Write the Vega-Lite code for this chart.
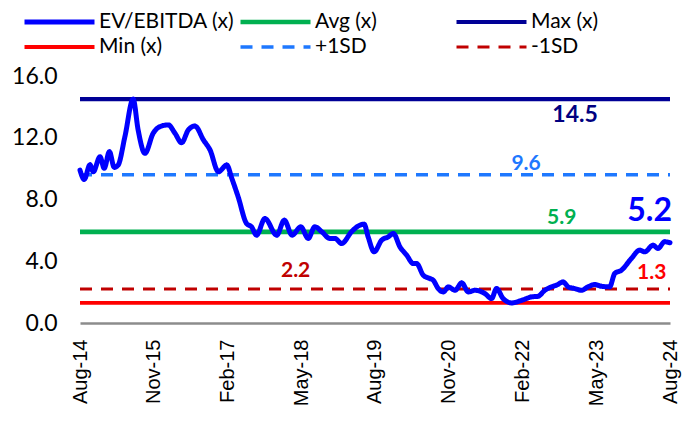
{
  "$schema": "https://vega.github.io/schema/vega-lite/v6.json",
  "autosize": {"type": "none"},
  "padding": {"left": 80, "top": 76, "right": 25, "bottom": 105},
  "width": 590,
  "height": 247,
  "config": {"view": {"stroke": null}, "font": "Lato"},
  "datasets": {
    "ref": [
      {"series": "Avg (x)", "date": "2014-08-01", "value": 5.9},
      {"series": "Avg (x)", "date": "2024-08-01", "value": 5.9},
      {"series": "Max (x)", "date": "2014-08-01", "value": 14.5},
      {"series": "Max (x)", "date": "2024-08-01", "value": 14.5},
      {"series": "Min (x)", "date": "2014-08-01", "value": 1.3},
      {"series": "Min (x)", "date": "2024-08-01", "value": 1.3},
      {"series": "+1SD", "date": "2014-08-01", "value": 9.6},
      {"series": "+1SD", "date": "2024-08-01", "value": 9.6},
      {"series": "-1SD", "date": "2014-08-01", "value": 2.2},
      {"series": "-1SD", "date": "2024-08-01", "value": 2.2}
    ],
    "ev": [
      {"series": "EV/EBITDA (x)", "date": "2014-08-01", "value": 9.9},
      {"series": "EV/EBITDA (x)", "date": "2014-08-27", "value": 9.3},
      {"series": "EV/EBITDA (x)", "date": "2014-10-02", "value": 10.25},
      {"series": "EV/EBITDA (x)", "date": "2014-10-22", "value": 9.8},
      {"series": "EV/EBITDA (x)", "date": "2014-12-03", "value": 10.77},
      {"series": "EV/EBITDA (x)", "date": "2014-12-29", "value": 10.02},
      {"series": "EV/EBITDA (x)", "date": "2015-01-30", "value": 11.1},
      {"series": "EV/EBITDA (x)", "date": "2015-03-01", "value": 10.08},
      {"series": "EV/EBITDA (x)", "date": "2015-03-25", "value": 10.23},
      {"series": "EV/EBITDA (x)", "date": "2015-05-06", "value": 12.07},
      {"series": "EV/EBITDA (x)", "date": "2015-06-26", "value": 14.5},
      {"series": "EV/EBITDA (x)", "date": "2015-07-27", "value": 12.5},
      {"series": "EV/EBITDA (x)", "date": "2015-09-07", "value": 10.99},
      {"series": "EV/EBITDA (x)", "date": "2015-10-28", "value": 12.29},
      {"series": "EV/EBITDA (x)", "date": "2015-12-09", "value": 12.72},
      {"series": "EV/EBITDA (x)", "date": "2016-01-30", "value": 12.83},
      {"series": "EV/EBITDA (x)", "date": "2016-03-11", "value": 12.29},
      {"series": "EV/EBITDA (x)", "date": "2016-04-21", "value": 11.68},
      {"series": "EV/EBITDA (x)", "date": "2016-06-02", "value": 12.51},
      {"series": "EV/EBITDA (x)", "date": "2016-07-13", "value": 12.76},
      {"series": "EV/EBITDA (x)", "date": "2016-09-03", "value": 11.86},
      {"series": "EV/EBITDA (x)", "date": "2016-10-14", "value": 11.21},
      {"series": "EV/EBITDA (x)", "date": "2016-12-05", "value": 9.8},
      {"series": "EV/EBITDA (x)", "date": "2017-01-26", "value": 10.23},
      {"series": "EV/EBITDA (x)", "date": "2017-02-26", "value": 9.37},
      {"series": "EV/EBITDA (x)", "date": "2017-04-06", "value": 8.18},
      {"series": "EV/EBITDA (x)", "date": "2017-05-28", "value": 6.45},
      {"series": "EV/EBITDA (x)", "date": "2017-06-28", "value": 6.23},
      {"series": "EV/EBITDA (x)", "date": "2017-07-29", "value": 5.69},
      {"series": "EV/EBITDA (x)", "date": "2017-09-19", "value": 6.77},
      {"series": "EV/EBITDA (x)", "date": "2017-12-01", "value": 5.69},
      {"series": "EV/EBITDA (x)", "date": "2018-01-17", "value": 6.66},
      {"series": "EV/EBITDA (x)", "date": "2018-03-06", "value": 5.69},
      {"series": "EV/EBITDA (x)", "date": "2018-04-29", "value": 6.23},
      {"series": "EV/EBITDA (x)", "date": "2018-06-14", "value": 5.48},
      {"series": "EV/EBITDA (x)", "date": "2018-07-25", "value": 6.23},
      {"series": "EV/EBITDA (x)", "date": "2018-09-06", "value": 5.91},
      {"series": "EV/EBITDA (x)", "date": "2018-10-26", "value": 5.48},
      {"series": "EV/EBITDA (x)", "date": "2018-11-26", "value": 5.48},
      {"series": "EV/EBITDA (x)", "date": "2019-01-07", "value": 5.15},
      {"series": "EV/EBITDA (x)", "date": "2019-03-09", "value": 5.91},
      {"series": "EV/EBITDA (x)", "date": "2019-04-19", "value": 6.28},
      {"series": "EV/EBITDA (x)", "date": "2019-05-26", "value": 6.4},
      {"series": "EV/EBITDA (x)", "date": "2019-06-20", "value": 5.58},
      {"series": "EV/EBITDA (x)", "date": "2019-07-27", "value": 4.61},
      {"series": "EV/EBITDA (x)", "date": "2019-09-12", "value": 5.37},
      {"series": "EV/EBITDA (x)", "date": "2019-10-22", "value": 5.58},
      {"series": "EV/EBITDA (x)", "date": "2019-11-23", "value": 5.8},
      {"series": "EV/EBITDA (x)", "date": "2020-01-03", "value": 4.93},
      {"series": "EV/EBITDA (x)", "date": "2020-02-14", "value": 4.39},
      {"series": "EV/EBITDA (x)", "date": "2020-03-25", "value": 3.85},
      {"series": "EV/EBITDA (x)", "date": "2020-04-15", "value": 3.85},
      {"series": "EV/EBITDA (x)", "date": "2020-05-26", "value": 3.1},
      {"series": "EV/EBITDA (x)", "date": "2020-07-06", "value": 2.88},
      {"series": "EV/EBITDA (x)", "date": "2020-07-27", "value": 2.77},
      {"series": "EV/EBITDA (x)", "date": "2020-08-27", "value": 2.23},
      {"series": "EV/EBITDA (x)", "date": "2020-09-28", "value": 2.01},
      {"series": "EV/EBITDA (x)", "date": "2020-10-28", "value": 2.34},
      {"series": "EV/EBITDA (x)", "date": "2020-12-09", "value": 2.12},
      {"series": "EV/EBITDA (x)", "date": "2021-01-20", "value": 2.6},
      {"series": "EV/EBITDA (x)", "date": "2021-03-01", "value": 2.01},
      {"series": "EV/EBITDA (x)", "date": "2021-04-11", "value": 2.12},
      {"series": "EV/EBITDA (x)", "date": "2021-06-12", "value": 1.91},
      {"series": "EV/EBITDA (x)", "date": "2021-07-23", "value": 1.58},
      {"series": "EV/EBITDA (x)", "date": "2021-08-23", "value": 2.23},
      {"series": "EV/EBITDA (x)", "date": "2021-10-03", "value": 1.58},
      {"series": "EV/EBITDA (x)", "date": "2021-11-25", "value": 1.3},
      {"series": "EV/EBITDA (x)", "date": "2022-01-26", "value": 1.47},
      {"series": "EV/EBITDA (x)", "date": "2022-03-27", "value": 1.69},
      {"series": "EV/EBITDA (x)", "date": "2022-05-07", "value": 1.73},
      {"series": "EV/EBITDA (x)", "date": "2022-06-18", "value": 2.12},
      {"series": "EV/EBITDA (x)", "date": "2022-07-29", "value": 2.34},
      {"series": "EV/EBITDA (x)", "date": "2022-08-29", "value": 2.45},
      {"series": "EV/EBITDA (x)", "date": "2022-10-09", "value": 2.66},
      {"series": "EV/EBITDA (x)", "date": "2022-11-10", "value": 2.34},
      {"series": "EV/EBITDA (x)", "date": "2022-12-21", "value": 2.23},
      {"series": "EV/EBITDA (x)", "date": "2023-02-01", "value": 2.12},
      {"series": "EV/EBITDA (x)", "date": "2023-03-12", "value": 2.34},
      {"series": "EV/EBITDA (x)", "date": "2023-04-23", "value": 2.49},
      {"series": "EV/EBITDA (x)", "date": "2023-06-03", "value": 2.38},
      {"series": "EV/EBITDA (x)", "date": "2023-07-24", "value": 2.34},
      {"series": "EV/EBITDA (x)", "date": "2023-08-25", "value": 3.21},
      {"series": "EV/EBITDA (x)", "date": "2023-10-05", "value": 3.42},
      {"series": "EV/EBITDA (x)", "date": "2023-12-06", "value": 4.18},
      {"series": "EV/EBITDA (x)", "date": "2024-01-27", "value": 4.72},
      {"series": "EV/EBITDA (x)", "date": "2024-02-27", "value": 4.61},
      {"series": "EV/EBITDA (x)", "date": "2024-04-18", "value": 5.04},
      {"series": "EV/EBITDA (x)", "date": "2024-05-18", "value": 4.83},
      {"series": "EV/EBITDA (x)", "date": "2024-06-29", "value": 5.26},
      {"series": "EV/EBITDA (x)", "date": "2024-08-01", "value": 5.2}
    ],
    "labels": [
      {"lab": "14.5", "date": "2022-12-22", "value": 14.5},
      {"lab": "9.6", "date": "2022-02-22", "value": 9.6},
      {"lab": "5.9", "date": "2022-10-01", "value": 5.9},
      {"lab": "5.2", "date": "2024-03-28", "value": 5.2},
      {"lab": "1.3", "date": "2024-04-10", "value": 1.3},
      {"lab": "2.2", "date": "2018-03-28", "value": 2.2}
    ]
  },
  "encoding": {
    "x": {
      "field": "date", "type": "temporal",
      "scale": {"type": "utc", "domain": [{"year": 2014, "month": 8, "date": 1, "utc": true}, {"year": 2024, "month": 8, "date": 1, "utc": true}], "nice": false},
      "axis": {
        "title": null, "format": "%b-%y",
        "values": [
          {"year": 2014, "month": 8, "date": 1, "utc": true},
          {"year": 2015, "month": 11, "date": 1, "utc": true},
          {"year": 2017, "month": 2, "date": 1, "utc": true},
          {"year": 2018, "month": 5, "date": 1, "utc": true},
          {"year": 2019, "month": 8, "date": 1, "utc": true},
          {"year": 2020, "month": 11, "date": 1, "utc": true},
          {"year": 2022, "month": 2, "date": 1, "utc": true},
          {"year": 2023, "month": 5, "date": 1, "utc": true},
          {"year": 2024, "month": 8, "date": 1, "utc": true}
        ],
        "labelAngle": -90, "labelAlign": "right", "labelBaseline": "middle",
        "labelFont": "Liberation Sans", "labelFontSize": 20, "labelColor": "black",
        "labelPadding": 16, "ticks": false, "grid": false,
        "domainColor": "#8c8c8c", "domainWidth": 2.5, "labelOverlap": false, "labelFlush": false
      }
    },
    "y": {
      "field": "value", "type": "quantitative",
      "scale": {"domain": [0, 16], "nice": false},
      "axis": {
        "title": null, "values": [0, 4, 8, 12, 16], "format": ".1f",
        "domain": false, "ticks": false, "grid": false,
        "labelFont": "Lato", "labelFontSize": 23, "labelColor": "black", "labelPadding": 23
      }
    }
  },
  "layer": [
    {
      "data": {"name": "ref"},
      "mark": {"type": "line"},
      "encoding": {
        "color": {
          "field": "series", "type": "nominal",
          "scale": {
            "domain": ["EV/EBITDA (x)", "Avg (x)", "Max (x)", "Min (x)", "+1SD", "-1SD"],
            "range": ["#0000FF", "#00B050", "#000096", "#FF0000", "#1E78FF", "#C00000"]
          },
          "legend": {
            "title": null, "orient": "none", "legendX": -58, "legendY": -66,
            "direction": "horizontal",
            "columns": 3, "gridAlign": "all", "columnPadding": 3, "rowPadding": 1,
            "clipHeight": 24,
            "symbolType": "stroke", "symbolSize": 4900, "labelOffset": 2,
            "labelFont": "Lato", "labelFontSize": 21, "labelColor": "black", "labelLimit": 300
          }
        },
        "strokeDash": {
          "field": "series", "type": "nominal",
          "scale": {
            "domain": ["EV/EBITDA (x)", "Avg (x)", "Max (x)", "Min (x)", "+1SD", "-1SD"],
            "range": [[1, 0], [1, 0], [1, 0], [1, 0], [12, 9], [12, 9]]
          },
          "legend": {"title": null}
        },
        "strokeWidth": {
          "field": "series", "type": "nominal",
          "scale": {
            "domain": ["EV/EBITDA (x)", "Avg (x)", "Max (x)", "Min (x)", "+1SD", "-1SD"],
            "range": [5, 3, 3, 3, 3, 3]
          },
          "legend": {"title": null}
        }
      }
    },
    {
      "data": {"name": "ev"},
      "mark": {"type": "line", "interpolate": "monotone", "strokeCap": "round", "strokeJoin": "round"},
      "encoding": {
        "color": {"field": "series", "type": "nominal"},
        "strokeDash": {"field": "series", "type": "nominal"},
        "strokeWidth": {"field": "series", "type": "nominal"}
      }
    },
    {
      "data": {"name": "labels"},
      "transform": [{"filter": "datum.lab == '14.5'"}],
      "mark": {"type": "text", "color": "#000080", "fontSize": 23, "fontWeight": "bold", "dy": 16, "baseline": "middle"},
      "encoding": {"text": {"field": "lab"}}
    },
    {
      "data": {"name": "labels"},
      "transform": [{"filter": "datum.lab == '9.6'"}],
      "mark": {"type": "text", "color": "#1E78FF", "fontSize": 21, "fontWeight": "bold", "dy": -11, "baseline": "middle"},
      "encoding": {"text": {"field": "lab"}}
    },
    {
      "data": {"name": "labels"},
      "transform": [{"filter": "datum.lab == '5.9'"}],
      "mark": {"type": "text", "color": "#00B050", "fontSize": 21, "fontWeight": "bold", "dy": -14, "baseline": "middle"},
      "encoding": {"text": {"field": "lab"}}
    },
    {
      "data": {"name": "labels"},
      "transform": [{"filter": "datum.lab == '5.2'"}],
      "mark": {"type": "text", "color": "#0000FF", "fontSize": 32, "fontWeight": "bold", "dy": -32, "baseline": "middle"},
      "encoding": {"text": {"field": "lab"}}
    },
    {
      "data": {"name": "labels"},
      "transform": [{"filter": "datum.lab == '1.3'"}],
      "mark": {"type": "text", "color": "#FF0000", "fontSize": 21, "fontWeight": "bold", "dy": -30, "baseline": "middle"},
      "encoding": {"text": {"field": "lab"}}
    },
    {
      "data": {"name": "labels"},
      "transform": [{"filter": "datum.lab == '2.2'"}],
      "mark": {"type": "text", "color": "#C00000", "fontSize": 21, "fontWeight": "bold", "dy": -18, "baseline": "middle"},
      "encoding": {"text": {"field": "lab"}}
    }
  ]
}
